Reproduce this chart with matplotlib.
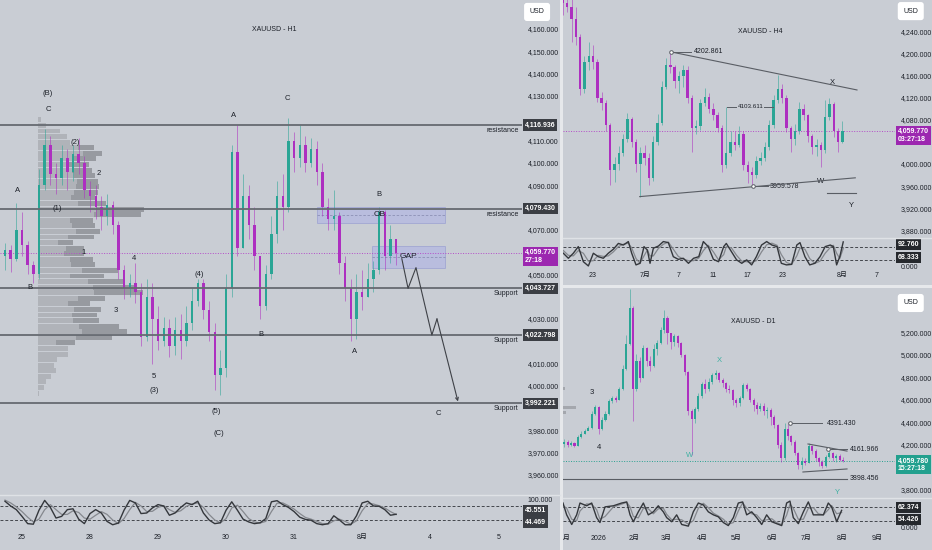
import numpy as np
import matplotlib
matplotlib.use("Agg")
import matplotlib.pyplot as plt
from matplotlib.patches import Rectangle
from matplotlib.lines import Line2D
from matplotlib.transforms import Bbox, TransformedBbox

plt.rcParams["font.family"] = ["Liberation Sans", "Noto Sans CJK SC", "DejaVu Sans"]
plt.rcParams["font.size"] = 5

# ---------------- H1 data (one candle per position) ----------------
h1_first_open = 4058
h1_close = [4061, 4057, 4070, 4063, 4054, 4050, 4090, 4108, 4095, 4093,
            4102, 4096, 4104, 4100, 4088, 4085, 4080, 4076, 4081, 4072,
            4052, 4044, 4046, 4042, 4022, 4040, 4030, 4020, 4026, 4018,
            4025, 4020, 4028, 4038, 4046, 4034, 4024, 4005, 4008, 4044,
            4105, 4062, 4085, 4072, 4058, 4036, 4050, 4068, 4085, 4080,
            4110, 4102, 4108, 4100, 4106, 4096, 4080, 4075, 4076, 4055,
            4044, 4030, 4042, 4040, 4048, 4052, 4078, 4058, 4066, 4059.77]
h1_high = [4064, 4063, 4082, 4078, 4065, 4056, 4097, 4115, 4112, 4100,
           4108, 4106, 4108, 4111, 4103, 4092, 4090, 4085, 4086, 4083,
           4074, 4054, 4050, 4055, 4046, 4048, 4046, 4036, 4031, 4030,
           4031, 4032, 4036, 4044, 4048, 4048, 4038, 4028, 4016, 4050,
           4108, 4117, 4095, 4090, 4080, 4058, 4054, 4076, 4092, 4095,
           4120, 4114, 4117, 4112, 4111, 4110, 4100, 4084, 4088, 4078,
           4058, 4048, 4050, 4052, 4055, 4056, 4080, 4079, 4072, 4066]
h1_low = [4052, 4051, 4056, 4058, 4050, 4046, 4048, 4088, 4090, 4086,
          4090, 4088, 4092, 4095, 4084, 4078, 4075, 4070, 4072, 4068,
          4048, 4039, 4040, 4037, 4018, 4020, 4010, 4016, 4018, 4013,
          4014, 4012, 4018, 4025, 4036, 4030, 4020, 3998, 3996, 4004,
          4040, 4058, 4062, 4066, 4052, 4030, 4034, 4048, 4064, 4070,
          4078, 4096, 4098, 4096, 4098, 4090, 4076, 4070, 4070, 4050,
          4038, 4020, 4021, 4034, 4040, 4042, 4050, 4052, 4055, 4054]
h1_k = [92, 75, 62, 38, 12, 10, 60, 95, 70, 32, 38, 62, 65, 28, 12, 48, 62, 50, 20, 8,
        14, 60, 95, 86, 48, 50, 68, 80, 75, 42, 50, 70, 86, 80, 92, 50, 25, 12, 15, 60,
        90, 60, 28, 18, 12, 15, 30, 90, 94, 80, 70, 55, 35, 27, 24, 12, 8, 12, 40, 25,
        8, 8, 40, 86, 92, 75, 74, 62, 42, 45.551]
h1_d = [96, 86, 72, 55, 35, 18, 28, 62, 80, 62, 45, 45, 58, 52, 32, 28, 42, 55, 45, 25,
        12, 30, 62, 88, 75, 55, 56, 70, 76, 62, 52, 58, 74, 82, 86, 70, 45, 25, 15, 30,
        68, 78, 55, 30, 18, 14, 20, 55, 85, 86, 76, 64, 48, 34, 28, 20, 12, 10, 22, 28,
        20, 10, 22, 58, 84, 82, 76, 68, 55, 44.469]
h1_day_pos = [4, 16, 28, 40, 52, 64, 76, 88]
h1_day_lab = ["25", "28", "29", "30", "31", "8月", "4", "5"]
h1_levels = [4116.936, 4079.430, 4043.727, 4022.798, 3992.221]
h1_level_names = ["resistance", "resistance", "Support", "Support", "Support"]
h1_hidden_ticks = [4120, 4080, 4060, 4040, 4020, 3990]
# volume profile (row price, total volume, buy volume)
vp_price = np.arange(4119.25, 3995, -2.5)
vp_total = [3, 8, 22, 29, 32, 56, 64, 58, 51, 54, 57, 60, 61, 60, 57, 68, 106, 103, 55, 57,
            62, 56, 35, 46, 46, 55, 57, 80, 66, 87, 98, 105, 67, 52, 63, 59, 61, 81, 89, 74,
            37, 30, 30, 19, 16, 18, 13, 8, 6, 1]
vp_buy = [3, 8, 22, 29, 32, 40, 45, 35, 30, 34, 36, 39, 38, 36, 33, 40, 58, 56, 32, 34,
          38, 30, 20, 28, 26, 32, 33, 44, 32, 50, 55, 56, 40, 30, 36, 34, 35, 41, 44, 38,
          18, 30, 30, 19, 16, 18, 13, 8, 6, 1]
h1_waves = [("(B)", 8.6, 4130.9), ("C", 8.6, 4123.7), ("A", 3.3, 4087.8), ("(2)", 13.3, 4108.9),
            ("2", 17.6, 4095), ("(1)", 10.2, 4079.7), ("B", 5.4, 4043.9), ("1", 14.9, 4060),
            ("4", 23.8, 4057.3), ("3", 20.6, 4034), ("5", 27.3, 4004), ("(3)", 27.3, 3997.7),
            ("(4)", 35.2, 4050.1), ("(5)", 38.2, 3988.7), ("(C)", 38.7, 3978.8), ("A", 41.4, 4121.4),
            ("C", 50.9, 4129), ("B", 46.2, 4023.2), ("B", 67.0, 4086), ("A", 62.7, 4015.2),
            ("C", 77.4, 3987.8)]
proj_x = [71.0, 72.1, 73.5, 76.3, 77.2, 80.9]
proj_y = [4057, 4043.7, 4053, 4022.8, 4030, 3993]
ob_zone = (56.0, 78.6, 4073.0, 4080.0)
gap_zone = (65.7, 78.6, 4052.8, 4062.7)

# ---------------- H4 data (half-day steps, day 0 = Jun 23) ----------------
h4_t = np.arange(-3.5, 29.25, 0.5)
h4_first_open = 4302
h4_close = [4292, 4285, 4262, 4230, 4135, 4185, 4195, 4185, 4120, 4110,
            4070, 3990, 4000, 4020, 4045, 4082, 4040, 4000, 4020, 4010,
            3975, 4040, 4075, 4140, 4180, 4175, 4150, 4160, 4170, 4120,
            4065, 4068, 4110, 4122, 4100, 4088, 4065, 3998, 4020, 4040,
            4035, 4055, 3998, 3985, 3980, 4005, 4010, 4030, 4070, 4115,
            4135, 4120, 4065, 4045, 4060, 4100, 4088, 4050, 4030, 4035,
            4025, 4085, 4108, 4060, 4040, 4059.77]
h4_high = [4310, 4310, 4300, 4285, 4235, 4195, 4220, 4215, 4190, 4130,
           4115, 4075, 4012, 4032, 4055, 4092, 4085, 4045, 4030, 4035,
           4020, 4050, 4090, 4150, 4192, 4203, 4180, 4168, 4180, 4178,
           4125, 4080, 4118, 4137, 4128, 4110, 4095, 4070, 4103.6, 4060,
           4060, 4068, 4060, 4005, 3995, 4015, 4022, 4040, 4080, 4125,
           4161, 4145, 4125, 4068, 4072, 4112, 4108, 4090, 4055, 4045,
           4040, 4116, 4120, 4112, 4065, 4077]
h4_low = [4270, 4275, 4220, 4215, 4125, 4128, 4170, 4172, 4112, 4098,
          4060, 3962, 3968, 3990, 4015, 4040, 4030, 3985, 3941, 3998,
          3962, 3970, 4035, 4070, 4135, 4165, 4138, 4128, 4140, 4110,
          4022, 4055, 4062, 4105, 4092, 4080, 4058, 3986, 3992, 4015,
          4025, 4030, 3990, 3965, 3959.6, 3975, 3998, 4005, 4025, 4065,
          4110, 4110, 4058, 4022, 4035, 4055, 4080, 4040, 4018, 4015,
          3995, 4020, 4080, 4048, 4022, 4038]
h4_osc_t = [-3.45, -2.87, -2.29, -1.71, -1.12, -0.54, 0.04, 0.62, 1.2, 1.78, 2.36, 2.95,
            3.53, 4.11, 4.5, 5.0, 5.47, 5.93, 6.32, 6.63, 7.02, 7.6, 8.18, 8.76, 9.34, 9.92,
            10.5, 11.1, 11.7, 12.3, 12.83, 13.4, 14.0, 14.6, 15.2, 15.5, 16.1, 16.7, 17.3,
            17.87, 18.45, 19.0, 19.6, 20.2, 20.8, 21.4, 21.9, 22.5, 23.1, 23.7, 24.07, 24.65,
            25.2, 25.8, 26.4, 27.0, 27.6, 27.95, 28.33, 28.7, 29.1]
h4_k = [50, 31, 50, 75, 18, 2, 50, 37, 31, 50, 65, 87, 81, 94, 50, 6, 12, 75, 62, 12,
        69, 77, 94, 90, 37, 27, 31, 12, 31, 37, 94, 75, 27, 18, 75, 87, 56, 25, 12, 25,
        6, 37, 81, 94, 81, 75, 12, 6, 8, 81, 90, 37, 6, 12, 37, 75, 81, 75, 6, 37, 92.76]
h4_d = [60, 42, 40, 60, 50, 20, 22, 42, 38, 40, 55, 75, 84, 88, 70, 30, 12, 40, 62, 40,
        40, 68, 84, 92, 65, 38, 28, 22, 22, 32, 60, 80, 55, 25, 45, 75, 70, 42, 20, 18,
        15, 22, 55, 82, 88, 80, 45, 15, 8, 40, 70, 65, 30, 12, 20, 50, 72, 80, 50, 30, 68.333]
h4_day_pos = [0, 6, 10, 14, 18, 22, 29, 33]
h4_day_lab = ["23", "7月", "7", "11", "17", "23", "8月", "7"]
h4_hidden_ticks = [4040]

# ---------------- D1 data (calendar days since Dec 1) ----------------
d1_t = np.arange(1, 245, 3)
d1_first_open = 4210
d1_close = [4230, 4200, 4215, 4195, 4270, 4300, 4320, 4350, 4480, 4540,
            4340, 4420, 4480, 4590, 4620, 4600, 4700, 4880, 5100, 5420,
            4700, 4950, 4800, 5060, 4950, 4900, 5050, 5110, 5220, 5330,
            5200, 5120, 5170, 5110, 5000, 4850, 4500, 4430, 4520, 4640,
            4740, 4700, 4760, 4820, 4840, 4780, 4750, 4700, 4690, 4600,
            4570, 4620, 4730, 4700, 4600, 4560, 4520, 4550, 4500, 4510,
            4450, 4380, 4200, 4080, 4340, 4280, 4230, 4130, 4020, 4060,
            4040, 4190, 4150, 4080, 4050, 4010, 4090, 4130, 4080, 4100,
            4070, 4059.78]
d1_high = [4255, 4240, 4235, 4225, 4285, 4320, 4340, 4370, 4500, 4560,
           4545, 4450, 4500, 4610, 4640, 4640, 4720, 4910, 5180, 5590,
           5440, 5010, 4980, 5090, 5070, 4990, 5100, 5130, 5250, 5400,
           5350, 5200, 5190, 5180, 5120, 5010, 4860, 4520, 4540, 4660,
           4760, 4790, 4800, 4840, 4870, 4850, 4800, 4760, 4730, 4700,
           4620, 4640, 4750, 4750, 4710, 4620, 4580, 4570, 4570, 4540,
           4530, 4470, 4390, 4230, 4395, 4391, 4290, 4240, 4140, 4090,
           4080, 4215, 4200, 4160, 4095, 4070, 4110, 4162, 4140, 4120,
           4120, 4090]
d1_low = [4180, 4185, 4190, 4185, 4190, 4260, 4295, 4330, 4345, 4470,
          4300, 4330, 4410, 4470, 4570, 4580, 4600, 4690, 4870, 5090,
          4410, 4680, 4760, 4800, 4900, 4860, 4890, 5000, 5100, 5200,
          5100, 5050, 5080, 5070, 4980, 4820, 4470, 4110, 4400, 4500,
          4620, 4660, 4680, 4740, 4790, 4760, 4720, 4670, 4660, 4560,
          4540, 4550, 4610, 4680, 4580, 4500, 4480, 4500, 4470, 4440,
          4380, 4350, 4170, 4050, 4070, 4240, 4200, 4110, 3990, 3985,
          4020, 4040, 4120, 4060, 4010, 3998, 4000, 4080, 4060, 4050,
          4055, 4045]
d1_osc_t = [0, 3.2, 7.6, 11.9, 14.8, 20.6, 25, 29.3, 32.2, 36.6, 43.9, 51.1, 55.5, 58.4,
            61.3, 65.6, 70, 74.3, 78.7, 83, 87.4, 90.3, 94.7, 99, 103.4, 109.2, 113.5, 117.9,
            122.3, 126.6, 131, 135.3, 139.7, 144, 148.4, 152.7, 156.5, 160, 164.4, 168.7,
            173.1, 177.4, 181.8, 186.1, 190.5, 194.8, 197.7, 200.6, 205, 209.4, 213.7, 218.1,
            222.4, 226.8, 231.1, 234, 238.4, 242.7]
d1_k = [89, 46, 11, 46, 89, 79, 89, 36, 18, 75, 79, 89, 93, 46, 21, 57, 89, 46, 57, 79,
        57, 36, 21, 46, 11, 5, 57, 89, 82, 57, 46, 39, 18, 7, 36, 89, 93, 46, 57, 36,
        11, 46, 21, 14, 7, 89, 96, 36, 14, 57, 93, 46, 46, 46, 89, 75, 21, 62.374]
d1_d = [80, 70, 30, 25, 60, 86, 84, 65, 30, 40, 75, 85, 92, 75, 40, 35, 70, 68, 50, 68,
        70, 48, 28, 30, 28, 12, 25, 70, 88, 72, 52, 42, 30, 12, 18, 60, 90, 70, 50, 46,
        25, 28, 32, 18, 10, 45, 85, 70, 30, 30, 70, 72, 50, 46, 65, 80, 50, 54.426]
d1_month_pos = [0, 31, 62, 90, 121, 151, 182, 212, 243, 274]
d1_month_lab = ["12月", "2026", "2月", "3月", "4月", "5月", "6月", "7月", "8月", "9月"]
d1_hidden_ticks = [4000, 5400]
d1_vp_price = [4700, 4530, 4490]
d1_vp_len = [2, 13, 3]

# ---------------- style ----------------
W, H = 932, 550
BG = "#c9cdd4"
SEP = "#e6e8eb"
UP = "#2aa595"
DN = "#ad2fc0"
LINE = "#595d64"
TXT = "#1c2028"
TEAL_TXT = "#3fb0a2"

fig = plt.figure(figsize=(W / 100, H / 100), dpi=100)
fig.patch.set_facecolor(SEP)
for (x0, y0, x1, y1) in [(0, 0, 560, 550), (563, 0, 932, 285), (563, 288, 932, 550)]:
    fig.add_artist(Rectangle((x0 / W, 1 - y1 / H), (x1 - x0) / W, (y1 - y0) / H,
                             transform=fig.transFigure, fc=BG, ec="none", zorder=0))
for (x0, x1, y) in [(0, 560, 494.5), (563, 932, 237.5), (563, 932, 497.5)]:
    fig.add_artist(Line2D([x0 / W, x1 / W], [1 - y / H] * 2, transform=fig.transFigure,
                          color="#dfe2e6", lw=1.0, zorder=1))


def px_axes(x0, y0, x1, y1):
    ax = fig.add_axes([x0 / W, 1 - y1 / H, (x1 - x0) / W, (y1 - y0) / H])
    ax.set_facecolor("none")
    for s in ax.spines.values():
        s.set_visible(False)
    ax.yaxis.tick_right()
    ax.tick_params(axis="both", length=0, labelsize=5, labelcolor=TXT)
    ax.tick_params(axis="y", pad=4)
    return ax


def price_ticks(ax, lo, hi, step, hidden):
    ticks = [t for t in np.arange(lo, hi + 1, step) if t not in hidden]
    ax.set_yticks(ticks)
    ax.set_yticklabels([f"{t:,.3f}" for t in ticks])
    ax.set_xticks([])


def draw_candles(ax, x, first_open, close, high, low, width, min_body):
    close = np.asarray(close, float)
    opens = np.concatenate([[first_open], close[:-1]])
    col = np.where(close >= opens, UP, DN)
    ax.vlines(x, low, high, colors=col, lw=0.7, alpha=0.55, zorder=3)
    body = np.maximum(np.abs(close - opens), min_body)
    ax.bar(x, body, bottom=np.minimum(opens, close), width=width, color=col, lw=0, zorder=4)


def draw_osc(ax, x, k, d, lo, hi):
    ax.plot(x, d, color="#85888e", lw=0.9, zorder=3)
    ax.plot(x, k, color="#34373c", lw=1.0, zorder=4)
    for lvl in (75, 25):
        ax.axhline(lvl, color="#43464c", lw=0.7, ls=(0, (3, 2)), zorder=2)
    ax.set_ylim(lo, hi)


def tag(ax, y, text, fc, dy=0.0, yfrac=None):
    if yfrac is None:
        xy, coords = (1, y), ax.get_yaxis_transform()
    else:
        xy, coords = (1, yfrac), "axes fraction"
    ax.annotate(text, xy=xy, xycoords=coords, xytext=(2.0, dy), textcoords="offset points",
                ha="left", va="center", fontsize=5, fontweight="bold", color="white",
                linespacing=1.05, annotation_clip=False, zorder=20,
                bbox=dict(boxstyle="square,pad=0.3", fc=fc, ec="none"))


def usd(ax, dx, dy):
    ax.annotate("USD", xy=(1, 1), xycoords="axes fraction", xytext=(dx, dy),
                textcoords="offset points", ha="left", va="center", fontsize=5, color=TXT,
                annotation_clip=False, zorder=20,
                bbox=dict(boxstyle="round,pad=0.8,rounding_size=0.4", fc="white", ec="none"))


def pivot(ax, x, y):
    ax.plot([x], [y], "o", ms=2.6, mfc="white", mec=LINE, mew=0.7, zorder=8)


# ================= H1 panel =================
ax1 = px_axes(0, 0, 522, 494)
o1 = px_axes(0, 495, 522, 528)
h1_x = np.arange(1, len(h1_close) + 1)

# volume profile
vp_left, vp_scale = 6.82, 1 / 5.67
vp_total_a = np.asarray(vp_total) * vp_scale
vp_buy_a = np.asarray(vp_buy) * vp_scale
ax1.barh(vp_price, vp_buy_a, left=vp_left, height=2.2, color="#b0b3b9", lw=0, zorder=1)
ax1.barh(vp_price, vp_total_a - vp_buy_a, left=vp_left + vp_buy_a, height=2.2,
         color="#979aa0", lw=0, zorder=1)

draw_candles(ax1, h1_x, h1_first_open, h1_close, h1_high, h1_low, 0.42, 0.5)

for lvl, name in zip(h1_levels, h1_level_names):
    ax1.axhline(lvl, color="#666a71", lw=1.3, zorder=5)
    ax1.annotate(name, xy=(0.994, lvl), xycoords=ax1.get_yaxis_transform(), xytext=(0, -1.5),
                 textcoords="offset points", ha="right", va="top", fontsize=5, color=TXT)

for (x0, x1, y0, y1) in (ob_zone, gap_zone):
    ax1.add_patch(Rectangle((x0, y0), x1 - x0, y1 - y0, fc="#b4b8e2", ec="#9da2d2",
                            lw=0.7, alpha=0.75, zorder=2))
    ax1.plot([x0, x1], [(y0 + y1) / 2] * 2, color="#8c90b5", lw=0.6, ls=(0, (3, 2)), zorder=2)
ax1.text(67.1, 4076.6, "OB", fontsize=6, ha="center", va="center", color=TXT, zorder=9)
ax1.text(72.1, 4058.2, "GAP", fontsize=6, ha="center", va="center", color=TXT, zorder=9)

ax1.axhline(h1_close[-1], color="#b44cc8", lw=0.7, ls=(0, (1, 1.6)), zorder=2)

ax1.plot(proj_x[:-1], proj_y[:-1], color="#3e4147", lw=0.8, zorder=6)
ax1.annotate("", xy=(proj_x[-1], proj_y[-1]), xytext=(proj_x[-2], proj_y[-2]),
             arrowprops=dict(arrowstyle="->", color="#3e4147", lw=0.8,
                             shrinkA=0, shrinkB=0, mutation_scale=5), zorder=6)

for lab, x, y in h1_waves:
    ax1.text(x, y, lab, fontsize=5.5, ha="center", va="center", color=TXT, zorder=9)

ax1.text(0.525, 0.941, "XAUUSD - H1", transform=ax1.transAxes, ha="center", va="center",
         fontsize=5, color=TXT)
ax1.set_xlim(0.12, 92.2)
ax1.set_ylim(3951.5, 4173.0)
price_ticks(ax1, 3960, 4160, 10, h1_hidden_ticks)
usd(ax1, 5.5, -8.6)
for lvl in h1_levels:
    tag(ax1, lvl, f"{lvl:,.3f}", "#3b3e44")
tag(ax1, h1_close[-1], "4,059.770\n27:18", "#9c27b0", dy=-2.8)

draw_osc(o1, h1_x, h1_k, h1_d, -3.6, 114.3)
o1.set_xlim(0.12, 92.2)
o1.set_yticks([100])
o1.set_yticklabels(["100.000"])
o1.set_xticks(h1_day_pos)
o1.set_xticklabels(h1_day_lab)
o1.tick_params(axis="x", pad=4)
tag(o1, None, "45.551", "#3b3e44", yfrac=0.53)
tag(o1, None, "44.469", "#3b3e44", yfrac=0.18)

# ================= H4 panel =================
ax2 = px_axes(563, 0, 895, 237)
o2 = px_axes(563, 238, 895, 268)
draw_candles(ax2, h4_t, h4_first_open, h4_close, h4_high, h4_low, 0.28, 1.0)
ax2.axhline(h4_close[-1], color="#b44cc8", lw=0.7, ls=(0, (1, 1.6)), zorder=2)

ax2.plot([9.07, 30.7], [4202.861, 4134], color=LINE, lw=0.8, zorder=6)
ax2.plot([5.43, 30.5], [3941, 3975], color=LINE, lw=0.8, zorder=6)
ax2.plot([9.07, 11.4], [4202.861] * 2, color=LINE, lw=0.7, zorder=6)
pivot(ax2, 9.07, 4202.861)
ax2.text(11.7, 4202.861, "4202.861", fontsize=5, ha="left", va="center", color=TXT)
ax2.plot([15.6, 20.9], [4103.611] * 2, color=LINE, lw=0.7, zorder=6)
ax2.text(18.3, 4103.611, "4103.611", fontsize=4.5, ha="center", va="center", color=TXT, zorder=9,
         bbox=dict(boxstyle="square,pad=0.1", fc=BG, ec="none"))
ax2.plot([18.6, 20.35], [3959.578] * 2, color=LINE, lw=0.7, zorder=6)
pivot(ax2, 18.6, 3959.578)
ax2.text(20.6, 3959.578, "3959.578", fontsize=5, ha="left", va="center", color=TXT)
ax2.plot([27.2, 30.6], [3947.5] * 2, color=LINE, lw=0.8, zorder=6)
ax2.text(27.8, 4148, "X", fontsize=5.5, ha="center", va="center", color=TXT)
ax2.text(26.5, 3968, "W", fontsize=5.5, ha="center", va="center", color=TXT)
ax2.text(30.1, 3924.6, "Y", fontsize=5.5, ha="center", va="center", color=TXT)
ax2.text(0.593, 0.865, "XAUUSD - H4", transform=ax2.transAxes, ha="center", va="center",
         fontsize=5, color=TXT)
ax2.set_xlim(-3.49, 35.12)
ax2.set_ylim(3867.9, 4296.8)
price_ticks(ax2, 3880, 4240, 40, h4_hidden_ticks)
usd(ax2, 6.0, -8.0)
tag(ax2, h4_close[-1], "4,059.770\n03:27:18", "#9c27b0", dy=-3.2)

draw_osc(o2, h4_osc_t, h4_k, h4_d, -5.7, 107.5)
o2.set_xlim(-3.49, 35.12)
o2.set_yticks([0])
o2.set_yticklabels(["0.000"])
o2.set_xticks(h4_day_pos)
o2.set_xticklabels(h4_day_lab)
o2.tick_params(axis="x", pad=3)
tag(o2, None, "92.760", "#25282d", yfrac=0.77)
tag(o2, None, "68.333", "#25282d", yfrac=0.355)

# ================= D1 panel =================
ax3 = px_axes(563, 288, 895, 497)
o3 = px_axes(563, 498, 895, 528)
px_per_day = 1.148
ax3.barh(d1_vp_price, np.asarray(d1_vp_len) / px_per_day, left=0, height=25,
         color="#a4a7ad", lw=0, zorder=1)
draw_candles(ax3, d1_t, d1_first_open, d1_close, d1_high, d1_low, 1.8, 6)
ax3.axhline(d1_close[-1], color="#2aa191", lw=0.7, ls=(0, (1, 1.6)), zorder=2)

ax3.plot([197.7, 225.6], [4391.43] * 2, color=LINE, lw=0.7, zorder=6)
pivot(ax3, 197.7, 4391.43)
ax3.text(230, 4391.43, "4391.430", fontsize=5, ha="left", va="center", color=TXT)
ax3.plot([230.8, 247.4], [4161.966] * 2, color=LINE, lw=0.7, zorder=6)
pivot(ax3, 230.8, 4161.966)
ax3.text(250, 4161.966, "4161.966", fontsize=5, ha="left", va="center", color=TXT)
ax3.plot([213.4, 247.4], [4209, 4146], color=LINE, lw=0.8, zorder=6)
ax3.plot([209, 247.4], [3960, 3987], color=LINE, lw=0.8, zorder=6)
ax3.plot([0, 247.4], [3898.456] * 2, color=LINE, lw=0.8, zorder=6)
ax3.text(250, 3898.456, "3898.456", fontsize=5, ha="left", va="center", color=TXT)
for lab, x, y in [("W", 110.6, 4111), ("X", 135.9, 4955), ("Y", 238.7, 3782)]:
    ax3.text(x, y, lab, fontsize=5.5, ha="center", va="center", color=TEAL_TXT)
for lab, x, y in [("3", 25.3, 4663), ("4", 31.4, 4182)]:
    ax3.text(x, y, lab, fontsize=5.5, ha="center", va="center", color=TXT)
ax3.text(0.572, 0.842, "XAUUSD - D1", transform=ax3.transAxes, ha="center", va="center",
         fontsize=5, color=TXT)
ax3.set_xlim(0, 289.2)
ax3.set_ylim(3737.7, 5595.7)
price_ticks(ax3, 3800, 5400, 200, d1_hidden_ticks)
usd(ax3, 6.0, -10.8)
tag(ax3, d1_close[-1], "4,059.780\n15:27:18", "#22a08e", dy=-2.8)

draw_osc(o3, d1_osc_t, d1_k, d1_d, -1.8, 107.3)
o3.set_xlim(0, 289.2)
o3.set_yticks([0])
o3.set_yticklabels(["0.000"])
o3.set_xticks(d1_month_pos)
o3.set_xticklabels(d1_month_lab)
o3.tick_params(axis="x", pad=5)
clip = TransformedBbox(Bbox([[563 / W, 0], [1, 1]]), fig.transFigure)
for lab in o3.get_xticklabels():
    lab.set_clip_box(clip)
    lab.set_clip_on(True)
tag(o3, None, "62.374", "#25282d", yfrac=0.68)
tag(o3, None, "54.426", "#25282d", yfrac=0.29)

fig.savefig("out.png", dpi=100, facecolor=fig.get_facecolor())
